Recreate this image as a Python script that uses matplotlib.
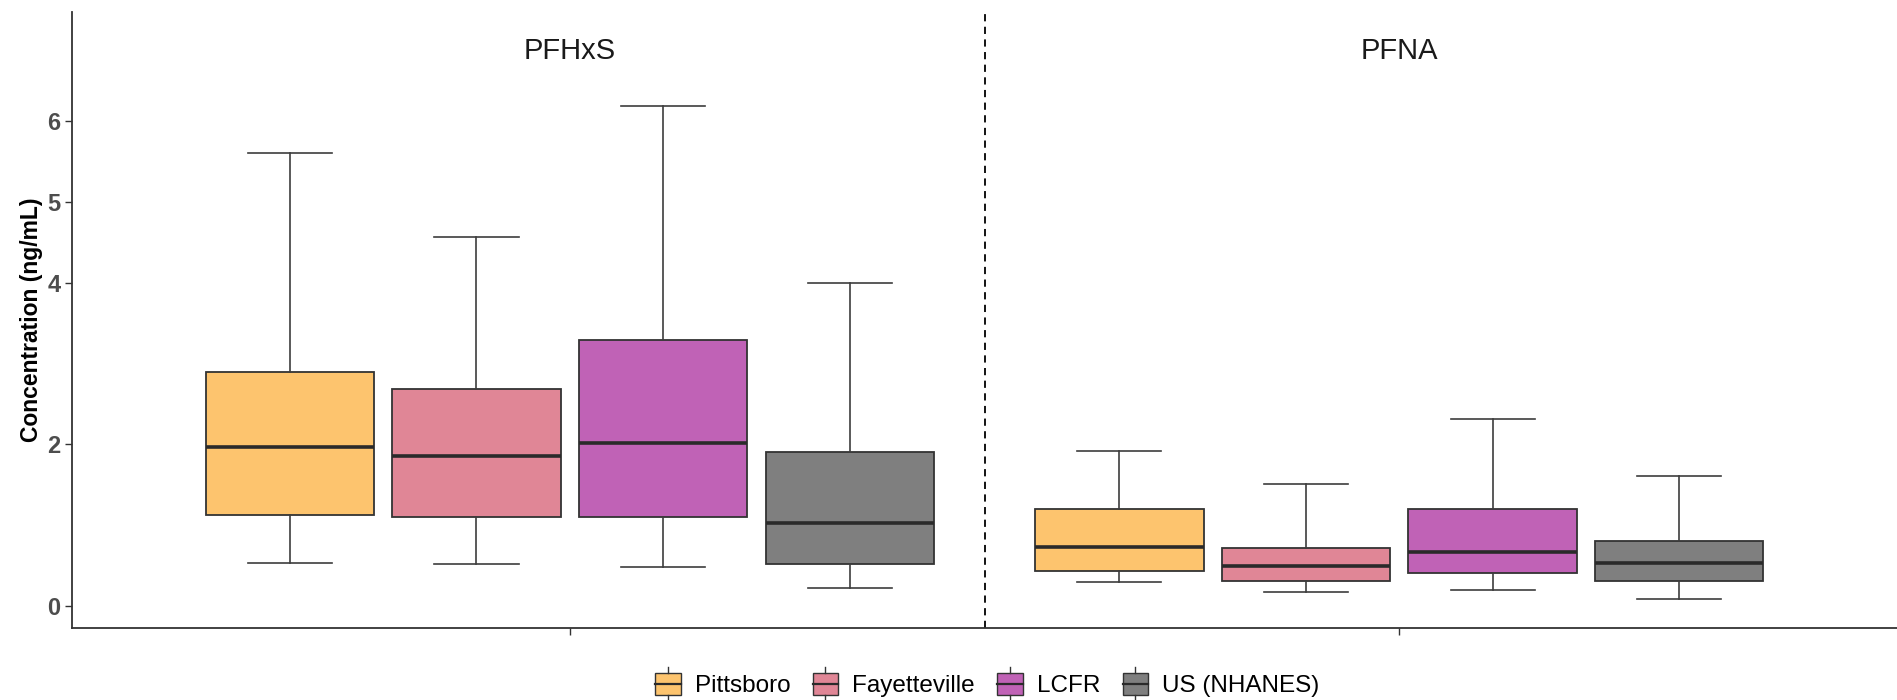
import matplotlib
matplotlib.use("Agg")
import matplotlib.pyplot as plt
from matplotlib.legend_handler import HandlerBase
from matplotlib.patches import Rectangle, Patch
from matplotlib.lines import Line2D

plt.rcParams["font.family"] = ["Liberation Sans", "DejaVu Sans"]

compounds = ["PFHxS", "PFNA"]
sites = ["Pittsboro", "Fayetteville", "LCFR", "US (NHANES)"]
colors = ["#FDC46E", "#E08696", "#C062B6", "#7F7F7F"]

# five-number summaries per compound, one entry per site
whisker_low = {
    "PFHxS": [0.53, 0.52, 0.48, 0.22],
    "PFNA": [0.30, 0.18, 0.20, 0.09],
}
q1 = {
    "PFHxS": [1.13, 1.10, 1.10, 0.52],
    "PFNA": [0.44, 0.31, 0.41, 0.31],
}
median = {
    "PFHxS": [1.97, 1.86, 2.02, 1.03],
    "PFNA": [0.73, 0.49, 0.67, 0.53],
}
q3 = {
    "PFHxS": [2.89, 2.69, 3.29, 1.91],
    "PFNA": [1.20, 0.72, 1.20, 0.81],
}
whisker_high = {
    "PFHxS": [5.61, 4.57, 6.19, 4.00],
    "PFNA": [1.92, 1.51, 2.31, 1.61],
}

y_ticks = [0, 2, 4, 5, 6]


class BoxHandler(HandlerBase):
    def create_artists(self, legend, orig_handle, xdescent, ydescent,
                       width, height, fontsize, trans):
        face = orig_handle.get_facecolor()
        bw = width * 0.7
        x0 = -xdescent + (width - bw) / 2
        y0 = -ydescent
        box = Rectangle((x0, y0 + height * 0.05), bw, height * 0.9,
                        facecolor=face, edgecolor="#333333", lw=1.0,
                        transform=trans)
        mid = Line2D([x0, x0 + bw], [y0 + height * 0.5] * 2,
                     color="#2a2a2a", lw=1.6, transform=trans)
        cx = x0 + bw / 2
        top = Line2D([cx, cx], [y0 + height * 0.95, y0 + height * 1.2],
                     color="#333333", lw=1.0, transform=trans)
        bot = Line2D([cx, cx], [y0 - height * 0.2, y0 + height * 0.05],
                     color="#333333", lw=1.0, transform=trans)
        return [box, mid, top, bot]


fig = plt.figure(figsize=(18.97, 7.0), dpi=100)
ax = fig.add_axes([0.038, 0.103, 0.962, 0.88])

offsets = [-0.3375, -0.1125, 0.1125, 0.3375]
box_width = 0.203

for g, comp in enumerate(compounds):
    stats = []
    for i in range(len(sites)):
        stats.append({
            "whislo": whisker_low[comp][i],
            "q1": q1[comp][i],
            "med": median[comp][i],
            "q3": q3[comp][i],
            "whishi": whisker_high[comp][i],
            "fliers": [],
        })
    positions = [g + 1 + o for o in offsets]
    bp = ax.bxp(stats, positions=positions, widths=box_width,
                patch_artist=True, showfliers=False,
                boxprops=dict(edgecolor="#333333", linewidth=1.3),
                medianprops=dict(color="#2a2a2a", linewidth=2.6),
                whiskerprops=dict(color="#3d3d3d", linewidth=1.2),
                capprops=dict(color="#3d3d3d", linewidth=1.2),
                capwidths=box_width * 0.5)
    for patch, c in zip(bp["boxes"], colors):
        patch.set_facecolor(c)
    ax.text(g + 1, 6.87, comp, ha="center", va="center", fontsize=21,
            color="#1a1a1a")

ax.axvline(1.5, color="black", linestyle=(0, (4, 3)), linewidth=1.3)

ax.set_xlim(0.4, 2.6)
ax.set_ylim(-0.27, 7.35)
ax.set_xticks([1, 2])
ax.set_xticklabels([])
ax.set_yticks(y_ticks)
ax.set_yticklabels([str(t) for t in y_ticks], fontsize=17,
                   fontweight="bold", color="#4d4d4d")
ax.tick_params(axis="both", length=5, color="#333333", width=1.0)
ax.set_ylabel("Concentration (ng/mL)", fontsize=16.5, fontweight="bold",
              labelpad=3)

for side in ["top", "right"]:
    ax.spines[side].set_visible(False)
for side in ["left", "bottom"]:
    ax.spines[side].set_color("#333333")
    ax.spines[side].set_linewidth(1.3)

handles = [Patch(facecolor=c, label=s) for c, s in zip(colors, sites)]
fig.legend(handles=handles, loc="center", bbox_to_anchor=(0.519, 0.022),
           ncol=4, frameon=False, fontsize=17.5, handler_map={Patch: BoxHandler()},
           handlelength=1.5, handleheight=1.15, handletextpad=0.35,
           columnspacing=0.7)

fig.savefig("out.png", dpi=100)
